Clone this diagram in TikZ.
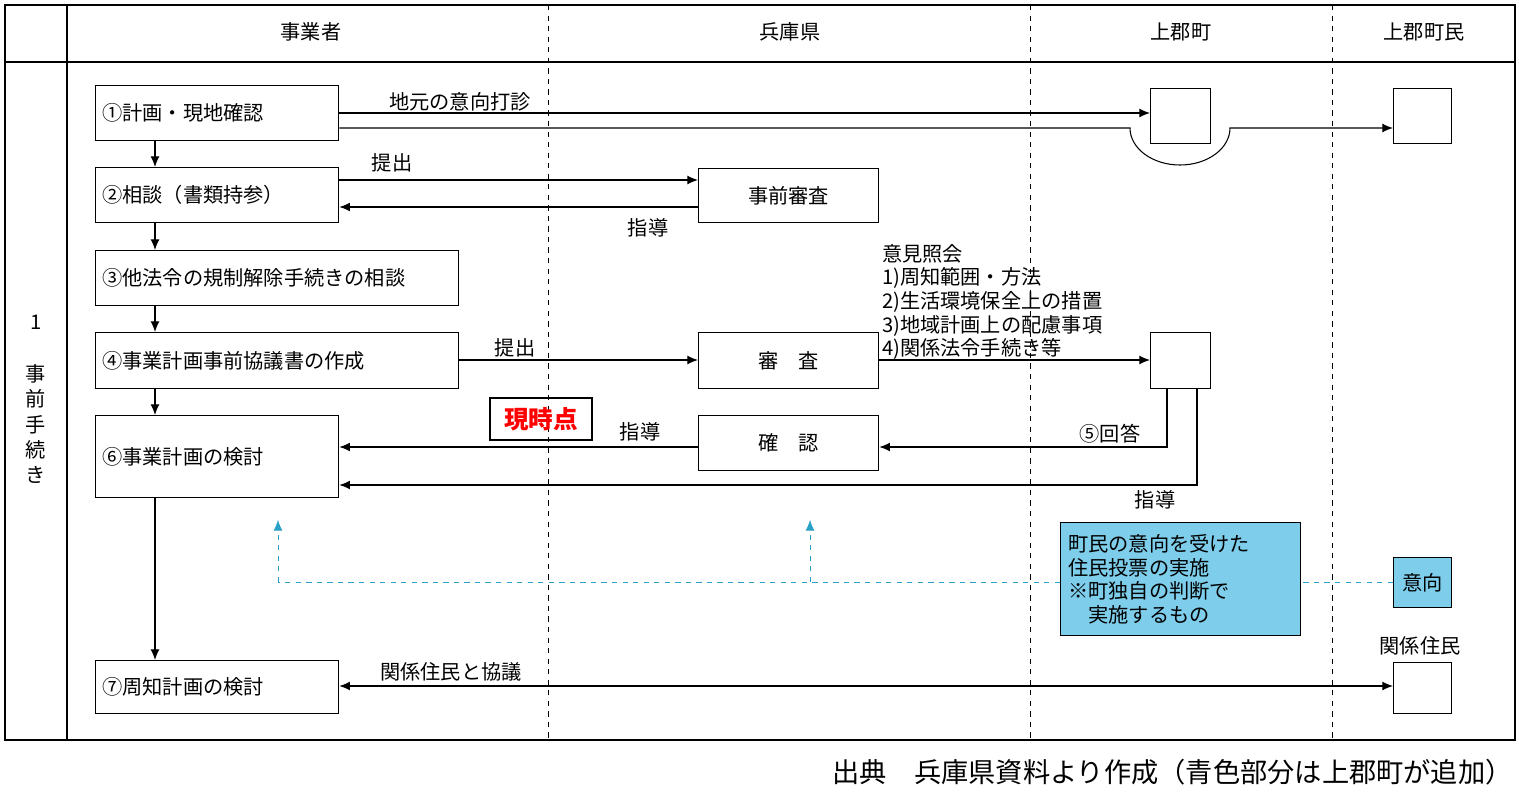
\documentclass[tikz,border=0pt]{standalone}
\usepackage{fontspec}
\setmainfont{Noto Sans CJK JP}
\usetikzlibrary{arrows.meta}
\definecolor{lightblue}{RGB}{125,205,235}
\definecolor{dashblue}{RGB}{40,160,200}
\tikzset{
  box/.style={draw,thick,minimum height=0pt,inner sep=0pt},
  lbl/.style={font=\fontsize{11.5}{13.5}\selectfont,inner sep=1pt},
  arr/.style={-{Latex[length=6pt,width=5pt]},semithick},
  dblarr/.style={{Latex[length=6pt,width=5pt]}-{Latex[length=6pt,width=5pt]},semithick},
  bluearr/.style={-{Latex[length=6pt,width=5pt]},dashblue,dashed},
}
\begin{document}
\begin{tikzpicture}[x=0.02cm,y=-0.02cm]
  \useasboundingbox (0,0) rectangle (1519,805);
  % table frame
  \draw[thick] (5,5) rectangle (1515,740);
  \draw[thick] (5,62) -- (1515,62);
  \draw[thick] (67,5) -- (67,740);
  \foreach \x in {548,1030,1332}
    \draw[dashed] (\x,5) -- (\x,740);
  \node[lbl] at (311,32) {事業者};
  \node[lbl] at (790,32) {兵庫県};
  \node[lbl] at (1181,32) {上郡町};
  \node[lbl] at (1424,32) {上郡町民};
  \node[lbl] at (36,322) {1};
  \node[lbl,align=center] at (36,424) {事\\[1pt]前\\[1pt]手\\[1pt]続\\[1pt]き};
  % boxes
  \node[box,lbl,anchor=north west,minimum width=4.86cm,minimum height=1.1cm,text width=4.6cm] (s1) at (95,85) {①計画・現地確認};
  \node[box,lbl,anchor=north west,minimum width=4.86cm,minimum height=1.1cm,text width=4.6cm] (s2) at (95,167) {②相談（書類持参）};
  \node[box,lbl,anchor=north west,minimum width=7.26cm,minimum height=1.1cm,text width=7cm] (s3) at (95,250) {③他法令の規制解除手続きの相談};
  \node[box,lbl,anchor=north west,minimum width=7.26cm,minimum height=1.12cm,text width=7cm] (s4) at (95,332) {④事業計画事前協議書の作成};
  \node[box,lbl,anchor=north west,minimum width=4.86cm,minimum height=1.64cm,text width=4.6cm] (s6) at (95,415) {⑥事業計画の検討};
  \node[box,lbl,anchor=north west,minimum width=4.86cm,minimum height=1.06cm,text width=4.6cm] (s7) at (95,660) {⑦周知計画の検討};
  \node[box,lbl,anchor=north west,minimum width=3.6cm,minimum height=1.08cm] (pre) at (698,168) {事前審査};
  \node[box,lbl,anchor=north west,minimum width=3.6cm,minimum height=1.12cm] (rev) at (698,332) {審\quad 査};
  \node[box,lbl,anchor=north west,minimum width=3.6cm,minimum height=1.1cm] (chk) at (698,415) {確\quad 認};
  \node[box,anchor=north west,minimum width=1.2cm,minimum height=1.1cm] (t1) at (1150,88) {};
  \node[box,anchor=north west,minimum width=1.2cm,minimum height=1.12cm] (t2) at (1150,332) {};
  \node[box,anchor=north west,minimum width=1.16cm,minimum height=1.1cm] (r1) at (1393,88) {};
  \node[box,lbl,anchor=north west,minimum width=1.16cm,minimum height=1cm,fill=lightblue] (will) at (1393,557) {意向};
  \node[box,anchor=north west,minimum width=1.16cm,minimum height=1.02cm] (r2) at (1393,662) {};
  \node[box,lbl,anchor=north west,minimum width=4.8cm,minimum height=2.26cm,fill=lightblue,text width=4.5cm,align=left] (vote) at (1060,522) {町民の意向を受けた\\住民投票の実施\\※町独自の判断で\\\hspace*{1em}実施するもの};
  \node[draw,thick,font=\fontsize{14}{15}\selectfont\bfseries,text=red,minimum width=2.04cm,minimum height=0.84cm] (now) at (541,419) {現時点};
  % flow down
  \draw[arr] (s1.south -| 155,0) -- (s2.north -| 155,0);
  \draw[arr] (s2.south -| 155,0) -- (s3.north -| 155,0);
  \draw[arr] (s3.south -| 155,0) -- (s4.north -| 155,0);
  \draw[arr] (s4.south -| 155,0) -- (s6.north -| 155,0);
  \draw[arr] (s6.south -| 155,0) -- (s7.north -| 155,0);
  % consultation of locals
  \draw[arr] (s1.east |- 0,113) -- (t1.west |- 0,113);
  \node[lbl] at (460,102) {地元の意向打診};
  \coordinate (dipA) at (1130,128);
  \coordinate (dipB) at (1230,128);
  \draw[arr] (s1.east |- 0,128) -- (dipA) arc[start angle=180,end angle=360,x radius=50,y radius=-37] -- (r1.west |- 0,128);
  % consultation
  \draw[arr] (s2.east |- 0,180) -- (pre.west |- 0,180);
  \node[lbl] at (392,163) {提出};
  \draw[arr] (pre.west |- 0,207) -- (s2.east |- 0,207);
  \node[lbl] at (648,228) {指導};
  % submission
  \draw[arr] (s4.east |- 0,360) -- (rev.west |- 0,360);
  \node[lbl] at (515,348) {提出};
  \draw[arr] (rev.east |- 0,360) -- (t2.west |- 0,360);
  \node[lbl,anchor=south west,align=left] at (880,362) {意見照会\\1)周知範囲・方法\\2)生活環境保全上の措置\\3)地域計画上の配慮事項\\4)関係法令手続き等};
  % answer
  \draw[arr] (t2.south -| 1167,0) |- (chk.east |- 0,447);
  \node[lbl] at (1110,434) {⑤回答};
  \draw[arr] (t2.south -| 1197,0) |- (s6.east |- 0,485);
  \node[lbl] at (1155,500) {指導};
  \draw[arr] (chk.west |- 0,447) -- (s6.east |- 0,447);
  \node[lbl] at (640,432) {指導};
  % town vote (blue)
  \draw[dashblue,dashed] (will.west) -- (vote.east |- will.west);
  \coordinate (bl) at (278,582);
  \draw[dashblue,dashed] (vote.west |- bl) -- (bl);
  \draw[bluearr] (bl) -- (278,520);
  \draw[bluearr] (810,582) -- (810,520);
  % residents
  \draw[dblarr] (s7.east |- 0,686) -- (r2.west |- 0,686);
  \node[lbl] at (451,672) {関係住民と協議};
  \node[lbl] at (1420,646) {関係住民};
  \node[anchor=east,font=\fontsize{15.5}{17}\selectfont,inner sep=0pt] at (1513,772) {出典\quad 兵庫県資料より作成（青色部分は上郡町が追加）};
\end{tikzpicture}
\end{document}
